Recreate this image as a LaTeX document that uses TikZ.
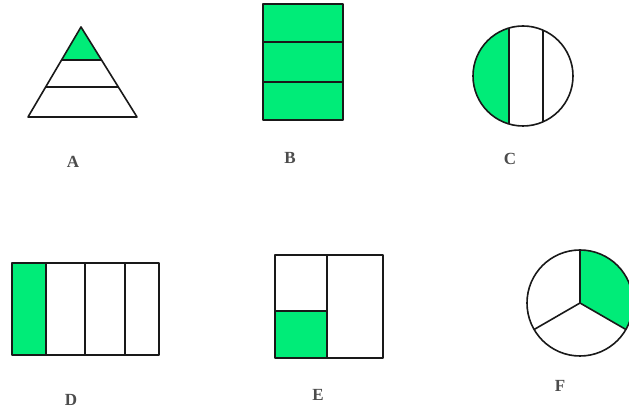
\documentclass[tikz,border=0pt]{standalone}
\usepackage{fontspec}
\setmainfont{Liberation Serif}
\usepackage{tikz}
\usetikzlibrary{calc}
\definecolor{partgreen}{RGB}{0,236,120}
\definecolor{edgecolor}{RGB}{25,25,25}

\begin{document}
\begin{tikzpicture}[x=1pt,y=1pt,line join=round]
  \tikzset{part/.style={draw=edgecolor,line width=1.6pt},
           lab/.style={font=\fontsize{17}{19}\selectfont\bfseries,text=black!70}}
  \useasboundingbox (0,0) rectangle (629,417);
  % ---------------- A: triangle
  \coordinate (apex) at (81,390); \coordinate (bl) at (28,300); \coordinate (br) at (137,300);
  \fill[partgreen] (apex) -- ($(apex)!0.37!(bl)$) -- ($(apex)!0.37!(br)$) -- cycle;
  \draw[part] ($(apex)!0.37!(bl)$) -- ($(apex)!0.37!(br)$);
  \draw[part] ($(apex)!0.67!(bl)$) -- ($(apex)!0.67!(br)$);
  \draw[part] (apex) -- (bl) -- (br) -- cycle;
  \node[lab] (labA) at (73,255) {A};
  % ---------------- B: rectangle in three rows
  \fill[partgreen] (263,297) rectangle (343,413);
  \draw[part] (263,335) -- (343,335); \draw[part] (263,375) -- (343,375);
  \draw[part] (263,297) rectangle (343,413);
  \node[lab] (labB) at (290,259) {B};
  % ---------------- C: circle in three strips
  \fill[partgreen] (509,389) arc[start angle=106.3,end angle=253.7,radius=50] -- cycle;
  \draw[part] (509,389) -- (509,293); \draw[part] (543,386.8) -- (543,295.2);
  \draw[part] (523,341) circle[radius=50];
  \node[lab] (labC) at (510,258) {C};
  % ---------------- D: rectangle in four columns
  \fill[partgreen] (12,62) rectangle (46,154);
  \foreach \cx in {46,85,125} \draw[part] (\cx,62) -- (\cx,154);
  \draw[part] (12,62) rectangle (159,154);
  \node[lab] (labD) at (71,17) {D};
  % ---------------- E: square, half and quarter
  \fill[partgreen] (275,59) rectangle (327,106);
  \draw[part] (327,59) -- (327,162); \draw[part] (275,106) -- (327,106);
  \draw[part] (275,59) rectangle (383,162);
  \node[lab] (labE) at (318,22) {E};
  % ---------------- F: circle in three sectors
  \coordinate (fc) at (580,114);
  \fill[partgreen] (fc) -- ($(fc)+(-30:53)$) arc[start angle=-30,end angle=90,radius=53] -- cycle;
  \foreach \ang in {90,210,330} \draw[part] (fc) -- ($(fc)+(\ang:53)$);
  \draw[part] (fc) circle[radius=53];
  \node[lab] (labF) at (560,31) {F};
\end{tikzpicture}
\end{document}
